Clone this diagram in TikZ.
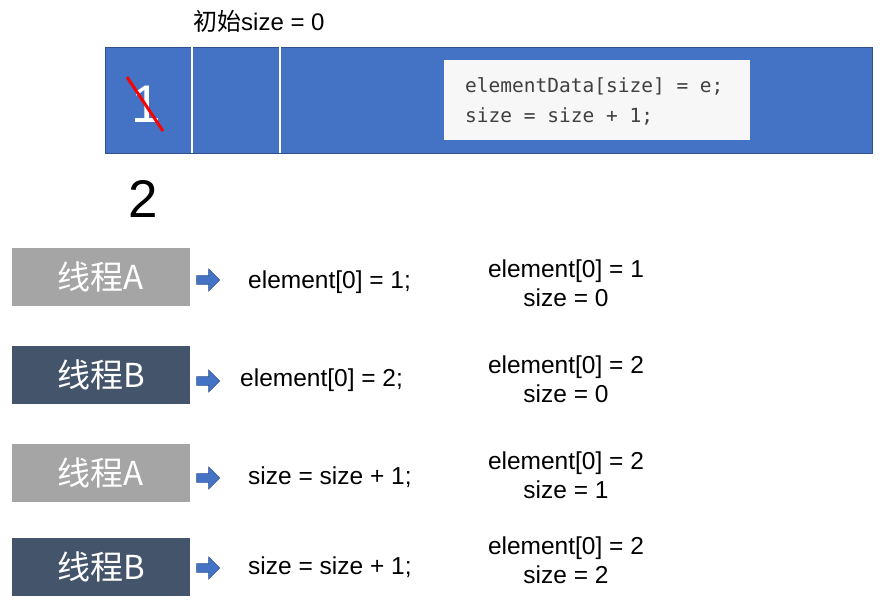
\documentclass[tikz,border=0pt]{standalone}
\usepackage{fontspec}
\setmainfont{Liberation Sans}
\newfontfamily\cjk{Noto Sans CJK SC}
\newfontfamily\codefont{DejaVu Sans Mono}
\usetikzlibrary{positioning, shapes.arrows, calc}
\definecolor{bar-blue}{HTML}{4472C4}
\definecolor{bar-edge}{HTML}{2F528F}
\definecolor{thread-a}{HTML}{A5A5A5}
\definecolor{thread-b}{HTML}{44546A}
\definecolor{code-bg}{HTML}{F7F7F7}
\definecolor{code-fg}{HTML}{404040}

\begin{document}
\begin{tikzpicture}[x=1pt, y=-1pt,
	thread/.style={minimum width=178pt, minimum height=58pt, inner sep=0pt, text=white, font=\cjk\fontsize{33}{33}\selectfont},
	threada/.style={thread, fill=thread-a},
	threadb/.style={thread, fill=thread-b},
	goarrow/.style={single arrow, fill=bar-blue, draw=bar-edge, line width=0.6pt, minimum width=22pt, minimum height=23pt, single arrow head extend=3.5pt, inner sep=2pt},
	stmt/.style={anchor=west, inner sep=0pt, font=\fontsize{24.5}{24.5}\selectfont},
	state/.style={align=center, inner sep=0pt, font=\fontsize{24.5}{29}\selectfont}]
	\useasboundingbox (0,0) rectangle (887,608);
	
	% array
	\node[draw=bar-edge, fill=bar-blue, anchor=north west, minimum width=767pt, minimum height=106pt, inner sep=0pt] at (105,47) (array) {};
	\draw[white, line width=1.5pt] (192,47) -- (192,153);
	\draw[white, line width=1.5pt] (280,47) -- (280,153);
	\node[text=white, font=\fontsize{53}{53}\selectfont] at (146,104) (one) {1};
	\draw[red, line width=3pt] ($(one)+(-19,-27)$) -- ($(one)+(17,27)$);
	
	\node[fill=code-bg, anchor=north west, minimum width=306pt, minimum height=80pt, inner sep=0pt] at (444,60) (codebox) {};
	\node[anchor=west, align=left, inner sep=0pt, text=code-fg, font=\codefont\fontsize{19.5}{30}\selectfont] at (465,101) (code) {elementData[size] = e;\\size = size + 1;};
	
	\node[anchor=west, inner sep=0pt, font=\fontsize{24}{24}\selectfont] at (193,21) (init) {{\cjk 初始}size = 0};
	\node[font=\fontsize{53}{53}\selectfont] at (143,199) (two) {2};
	
	% threads
	\node[threada] at (101,277) (ta1) {线程A};
	\node[threadb] at (101,375) (tb1) {线程B};
	\node[threada] at (101,473) (ta2) {线程A};
	\node[threadb] at (101,567) (tb2) {线程B};
	
	\node[goarrow] at (206,280) (go1) {};
	\node[goarrow] at (206,381) (go2) {};
	\node[goarrow] at (206,478) (go3) {};
	\node[goarrow] at (206,568) (go4) {};
	
	\node[stmt] at (248,282) (s1) {element[0] = 1;};
	\node[stmt] at (240,380) (s2) {element[0] = 2;};
	\node[stmt] at (248,477) (s3) {size = size + 1;};
	\node[stmt] at (248,567) (s4) {size = size + 1;};
	
	\node[state] at (566,283) (r1) {element[0] = 1\\size = 0};
	\node[state] at (566,379) (r2) {element[0] = 2\\size = 0};
	\node[state] at (566,475) (r3) {element[0] = 2\\size = 1};
	\node[state] at (566,560) (r4) {element[0] = 2\\size = 2};
\end{tikzpicture}
\end{document}
